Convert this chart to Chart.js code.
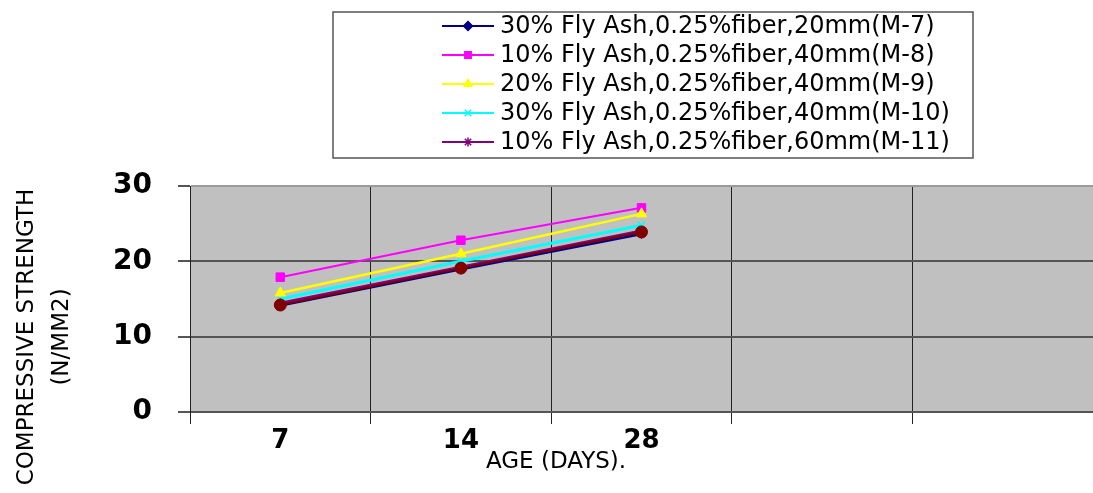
<!DOCTYPE html>
<html>
<head>
<meta charset="utf-8">
<script src="https://cdn.jsdelivr.net/npm/chart.js@4/dist/chart.umd.min.js"></script>
<style>
  html, body { margin: 0; padding: 0; background: #fff; overflow: hidden; }
</style>
</head>
<body>
<canvas id="c" width="1100" height="493"></canvas>
<script>
// age categories (the last two are empty bands, as in the original sheet)
const ages = ["7", "14", "28", "", ""];

const m7 = [14.2, 19.0, 23.7];
const m8 = [17.9, 22.8, 27.1];
const m9 = [15.8, 21.0, 26.3];
const m10 = [15.0, 20.0, 24.8];
const m11 = [14.4, 19.2, 24.0];
const extra = [14.2, 19.1, 23.9]; // maroon series with no legend entry

const labels = [
  "30% Fly Ash,0.25%fiber,20mm(M-7)",
  "10% Fly Ash,0.25%fiber,40mm(M-8)",
  "20% Fly Ash,0.25%fiber,40mm(M-9)",
  "30% Fly Ash,0.25%fiber,40mm(M-10)",
  "10% Fly Ash,0.25%fiber,60mm(M-11)",
];

const yTitle = ["COMPRESSIVE STRENGTH", "(N/MM2)"];
const xTitle = "AGE (DAYS).";

const mk = (label, data, color, style, radius, order, width) => ({
  label,
  data,
  borderColor: color,
  backgroundColor: color,
  pointBackgroundColor: color,
  pointBorderColor: color,
  pointStyle: style,
  pointRadius: radius,
  pointBorderWidth: style === "crossRot" || style === "star" ? 1.5 : 1,
  borderWidth: width,
  tension: 0,
  order,
});

const datasets = [
  mk(labels[0], m7, "#000080", "rectRot", 5, 3, 3.5),
  mk(labels[1], m8, "#ff00ff", "rect", 6, 5, 2),
  mk(labels[2], m9, "#ffff00", "triangle", 6, 4, 2.5),
  mk(labels[3], m10, "#00ffff", "crossRot", 5, 6, 3),
  mk(labels[4], m11, "#800080", "star", 5, 2, 3.5),
  mk("", extra, "#800000", "circle", 6, 0, 2),
];

// grey plot background
const plotBg = {
  id: "plotBg",
  beforeDraw(chart) {
    const { ctx, chartArea: a } = chart;
    ctx.save();
    ctx.fillStyle = "#c0c0c0";
    ctx.fillRect(a.left, a.top, a.right - a.left, a.bottom - a.top);
    ctx.restore();
  },
};

// boxed legend + axis titles
const extras = {
  id: "extras",
  afterDraw(chart) {
    const ctx = chart.ctx;
    ctx.save();

    // legend
    ctx.strokeStyle = "#555";
    ctx.lineWidth = 1.5;
    ctx.strokeRect(333, 12, 640, 146);
    ctx.font = "24px 'DejaVu Sans'";
    ctx.textBaseline = "middle";
    ctx.textAlign = "left";
    labels.forEach((txt, i) => {
      const ds = chart.data.datasets[i];
      const y = 26 + i * 29;
      ctx.strokeStyle = ds.borderColor;
      ctx.lineWidth = 2;
      ctx.beginPath();
      ctx.moveTo(442, y);
      ctx.lineTo(494, y);
      ctx.stroke();
      ctx.fillStyle = ds.borderColor;
      ctx.lineWidth = 1.5;
      if (Chart.helpers && Chart.helpers.drawPoint) {
        Chart.helpers.drawPoint(ctx, { pointStyle: ds.pointStyle, radius: 4.5, rotation: 0, borderWidth: 1.5 }, 468, y);
      }
      ctx.fillStyle = "#000";
      ctx.fillText(txt, 500, y + 1);
    });

    // y title, rotated
    ctx.fillStyle = "#000";
    ctx.font = "23px 'DejaVu Sans'";
    ctx.textAlign = "center";
    ctx.translate(0, 337);
    ctx.rotate(-Math.PI / 2);
    ctx.fillText(yTitle[0], 0, 27);
    ctx.fillText(yTitle[1], 0, 62);
    ctx.setTransform(1, 0, 0, 1, 0, 0);

    // x title
    ctx.font = "23px 'DejaVu Sans'";
    ctx.fillText(xTitle, 556, 462);
    ctx.restore();
  },
};

Chart.defaults.font.family = "'DejaVu Sans', sans-serif";
Chart.defaults.color = "#000";

new Chart(document.getElementById("c"), {
  type: "line",
  data: { labels: ages, datasets },
  options: {
    responsive: false,
    animation: false,
    devicePixelRatio: 1,
    layout: { padding: { top: 186, left: 0, right: 0, bottom: 0 } },
    plugins: {
      legend: { display: false },
      tooltip: { enabled: false },
    },
    scales: {
      x: {
        offset: true,
        afterFit: (s) => { s.height = 81; },
        grid: {
          offset: true,
          color: "#222",
          lineWidth: 1,
          tickLength: 12,
          tickColor: "#222",
        },
        border: { color: "#555", width: 2 },
        ticks: {
          padding: 2,
          maxRotation: 0,
          font: { size: 26, weight: "bold" },
        },
      },
      y: {
        min: 0,
        max: 30,
        afterFit: (s) => { s.width = 190; },
        grid: {
          color: (c) => (c.tick && c.tick.value === 30 ? "#9a9a9a" : "#555"),
          lineWidth: 2,
          tickLength: 12,
          tickColor: "#555",
        },
        border: { color: "#222", width: 1 },
        ticks: {
          stepSize: 10,
          padding: 26,
          font: { size: 28, weight: "bold" },
        },
      },
    },
  },
  plugins: [plotBg, extras],
});
</script>
</body>
</html>
